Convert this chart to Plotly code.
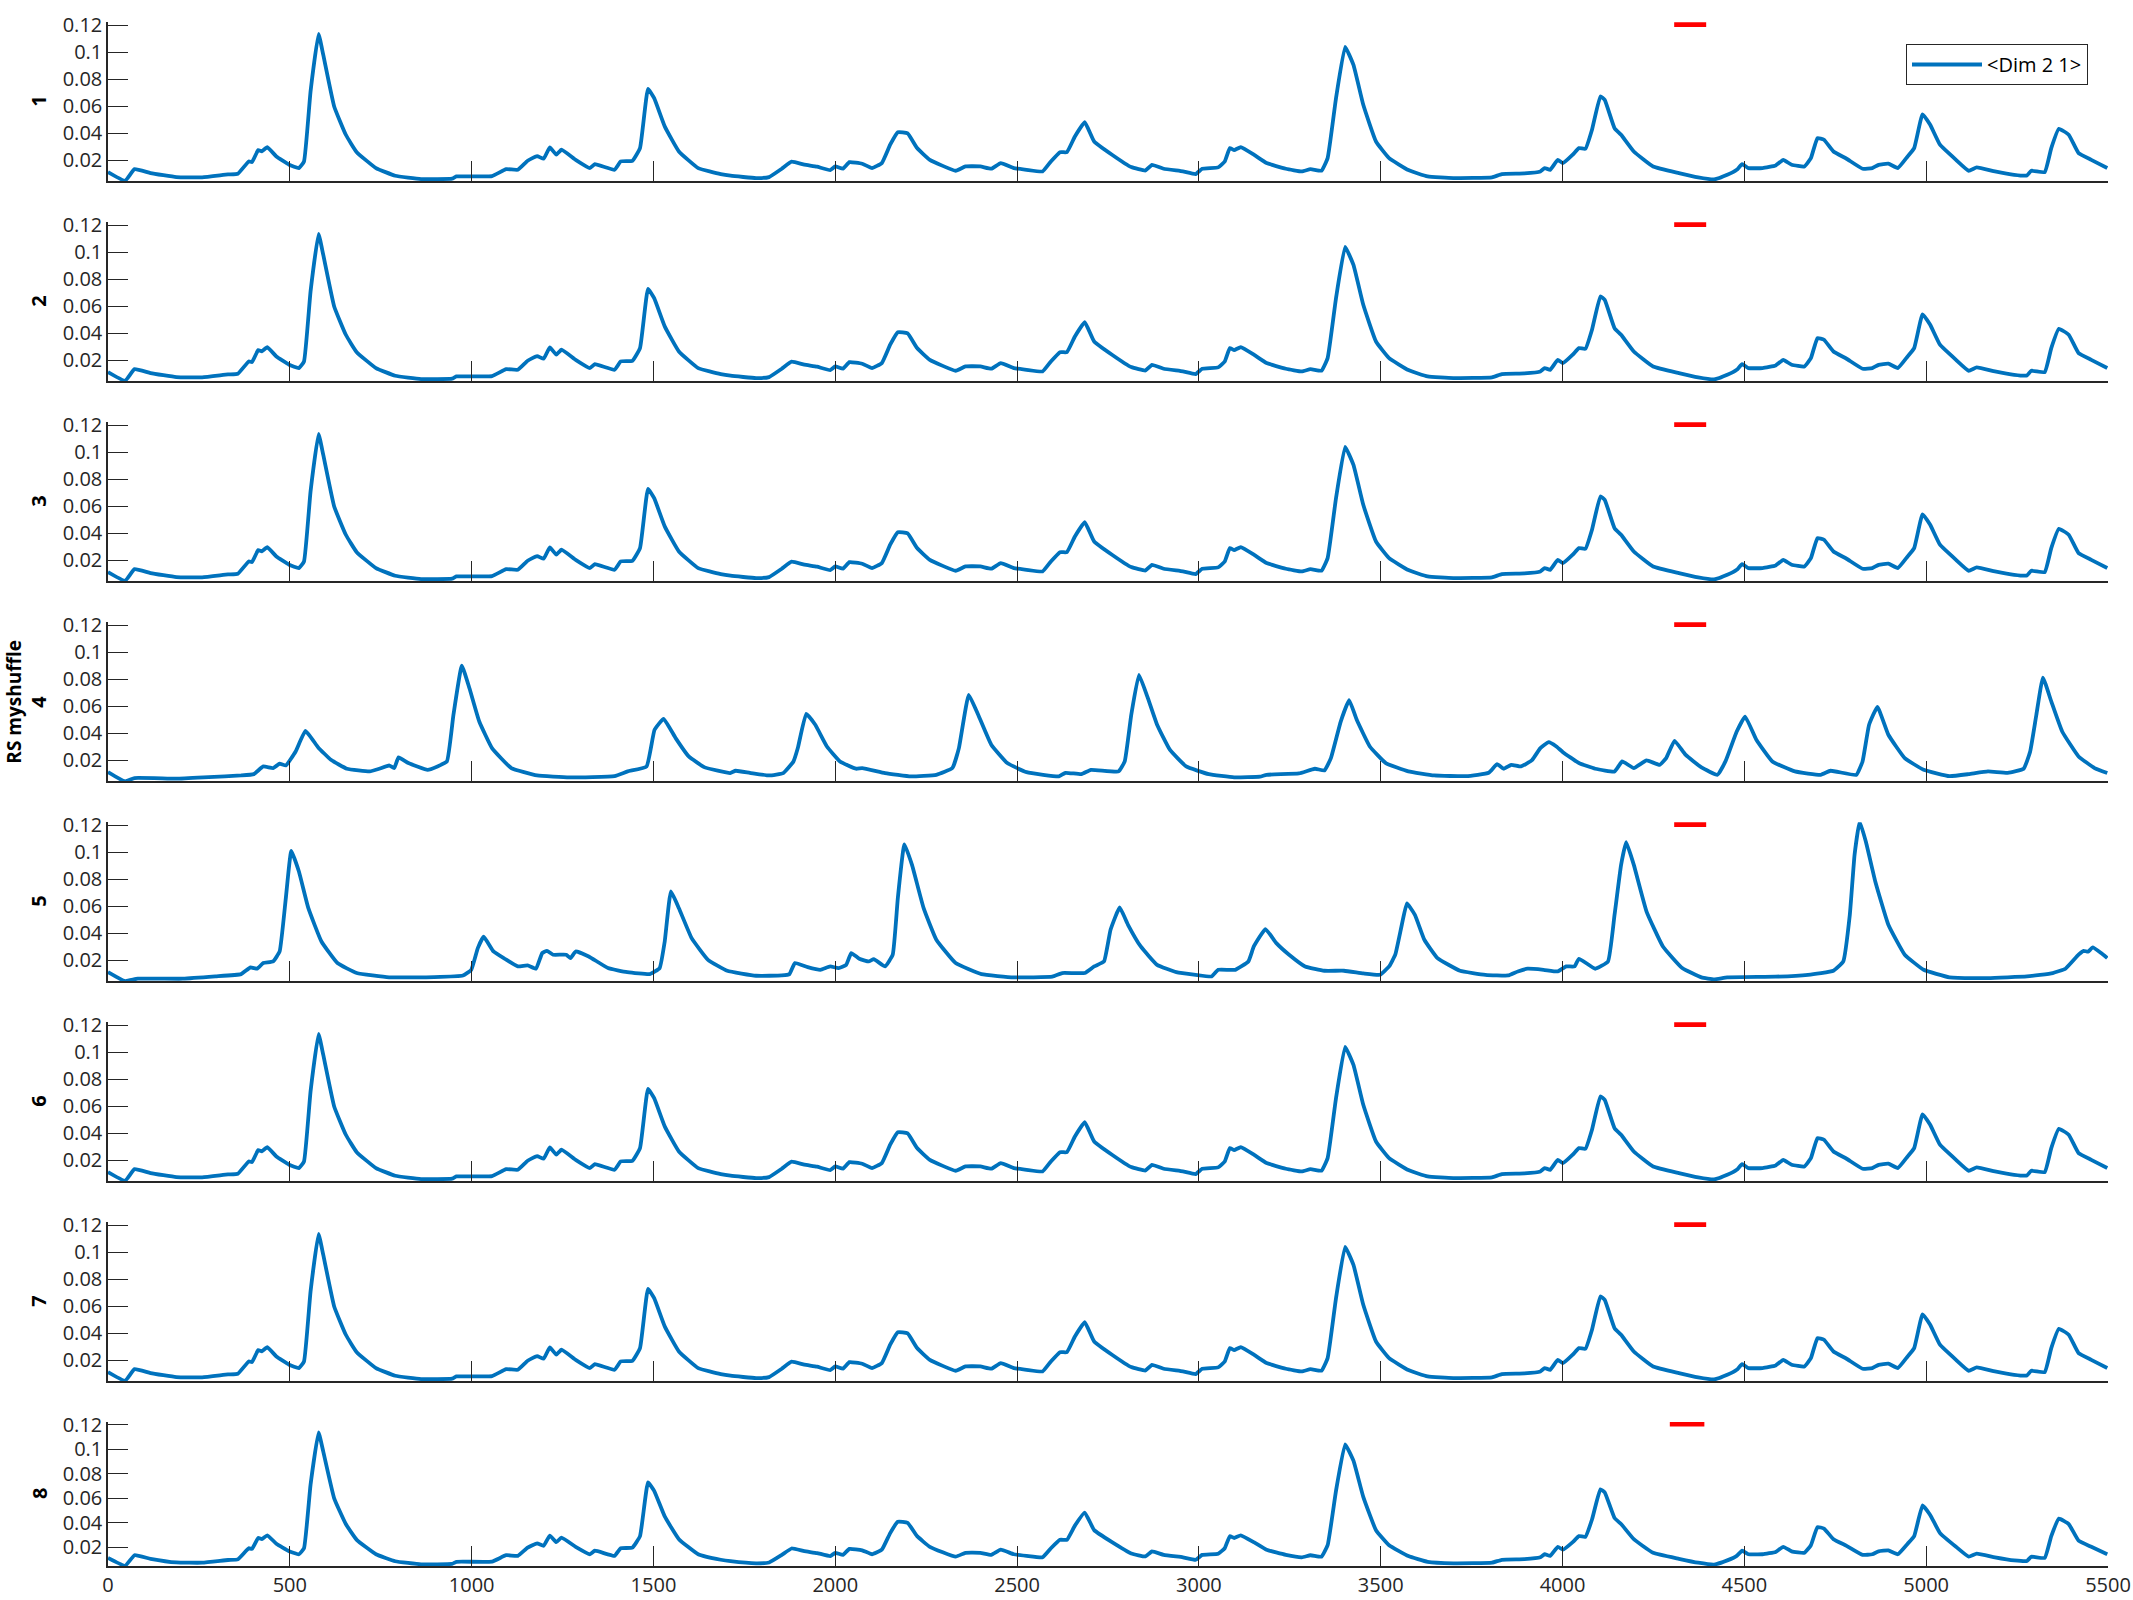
import plotly.graph_objects as go

# ---------------- data ----------------
# series shown in panels 1,2,3,6,7,8
xa = [0, 47, 73, 117, 188, 259, 330, 357, 387, 396, 413, 423, 438, 463, 498, 525, 539, 557, 579, 592, 622, 654, 684,
      737, 790, 861, 946, 958, 1056, 1095, 1127, 1154, 1180, 1198, 1215, 1233, 1247, 1286, 1325, 1339, 1393, 1410,
      1442, 1463, 1485, 1502, 1531, 1570, 1623, 1685, 1712, 1782, 1818, 1853, 1880, 1915, 1950, 1986, 2000, 2021,
      2039, 2074, 2101, 2128, 2151, 2172, 2199, 2225, 2260, 2331, 2358, 2399, 2429, 2455, 2491, 2526, 2570, 2593,
      2618, 2637, 2659, 2686, 2712, 2761, 2814, 2853, 2871, 2903, 2956, 2991, 3009, 3053, 3071, 3085, 3097, 3115,
      3151, 3186, 3239, 3283, 3307, 3337, 3354, 3377, 3402, 3425, 3452, 3487, 3523, 3576, 3629, 3700, 3806, 3833,
      3895, 3939, 3951, 3966, 3987, 4001, 4028, 4045, 4063, 4081, 4104, 4116, 4143, 4161, 4196, 4249, 4320, 4373,
      4417, 4453, 4479, 4494, 4511, 4550, 4586, 4607, 4630, 4665, 4683, 4701, 4719, 4745, 4781, 4825, 4852, 4869,
      4896, 4922, 4949, 4967, 4990, 5011, 5038, 5082, 5117, 5139, 5189, 5242, 5277, 5289, 5326, 5344, 5365, 5392,
      5419, 5454, 5498]
ya = [0.0111, 0.0047, 0.0133, 0.0104, 0.0074, 0.0072, 0.0094, 0.0099, 0.0190, 0.0185, 0.0274, 0.0265, 0.0296, 0.0227,
      0.0166, 0.0141, 0.0190, 0.0709, 0.1136, 0.0980, 0.0598, 0.0388, 0.0259, 0.0141, 0.0084, 0.0059, 0.0062, 0.0079,
      0.0081, 0.0133, 0.0128, 0.0195, 0.0230, 0.0210, 0.0294, 0.0240, 0.0277, 0.0202, 0.0141, 0.0170, 0.0128, 0.0190,
      0.0195, 0.0289, 0.0728, 0.0659, 0.0450, 0.0264, 0.0141, 0.0096, 0.0084, 0.0067, 0.0074, 0.0136, 0.0188, 0.0166,
      0.0151, 0.0126, 0.0153, 0.0136, 0.0185, 0.0173, 0.0141, 0.0178, 0.0314, 0.0407, 0.0398, 0.0289, 0.0202, 0.0121,
      0.0153, 0.0153, 0.0136, 0.0178, 0.0141, 0.0128, 0.0116, 0.0190, 0.0259, 0.0259, 0.0375, 0.0481, 0.0338, 0.0240,
      0.0148, 0.0123, 0.0165, 0.0136, 0.0116, 0.0096, 0.0136, 0.0146, 0.0190, 0.0289, 0.0274, 0.0296, 0.0240, 0.0178,
      0.0136, 0.0116, 0.0133, 0.0121, 0.0215, 0.0659, 0.1040, 0.0906, 0.0610, 0.0338, 0.0215, 0.0126, 0.0079, 0.0067,
      0.0072, 0.0096, 0.0101, 0.0116, 0.0141, 0.0128, 0.0202, 0.0178, 0.0240, 0.0289, 0.0284, 0.0425, 0.0672, 0.0647,
      0.0437, 0.0388, 0.0264, 0.0153, 0.0104, 0.0072, 0.0057, 0.0091, 0.0128, 0.0170, 0.0141, 0.0141, 0.0160, 0.0202,
      0.0165, 0.0153, 0.0215, 0.0363, 0.0351, 0.0264, 0.0210, 0.0136, 0.0141, 0.0165, 0.0173, 0.0141, 0.0227, 0.0289,
      0.0540, 0.0462, 0.0314, 0.0202, 0.0121, 0.0146, 0.0116, 0.0091, 0.0086, 0.0121, 0.0111, 0.0289, 0.0432, 0.0388,
      0.0252, 0.0202, 0.0141]

# series shown in panel 4
xd = [0, 47, 73, 188, 277, 366, 401, 427, 454, 472, 489, 516, 543, 578, 613, 657, 720, 746, 773, 787, 799, 826, 879,
      906, 932, 950, 973, 994, 1021, 1056, 1109, 1180, 1269, 1393, 1429, 1481, 1503, 1528, 1561, 1597, 1641, 1711,
      1726, 1765, 1818, 1857, 1885, 1897, 1920, 1945, 1977, 2013, 2057, 2074, 2137, 2208, 2278, 2322, 2340, 2367,
      2393, 2429, 2473, 2526, 2615, 2633, 2677, 2703, 2779, 2796, 2814, 2835, 2858, 2885, 2920, 2965, 3027, 3097,
      3168, 3186, 3275, 3319, 3345, 3363, 3390, 3413, 3434, 3470, 3514, 3576, 3647, 3735, 3797, 3820, 3838, 3859,
      3886, 3916, 3939, 3962, 3983, 4001, 4045, 4090, 4143, 4164, 4196, 4231, 4267, 4285, 4308, 4338, 4382, 4426,
      4448, 4479, 4502, 4533, 4577, 4639, 4710, 4737, 4808, 4825, 4843, 4866, 4896, 4941, 4993, 5064, 5117, 5170,
      5224, 5268, 5286, 5303, 5321, 5344, 5374, 5419, 5463, 5498]
yd = [0.0111, 0.0042, 0.0067, 0.0062, 0.0074, 0.0086, 0.0096, 0.0153, 0.0141, 0.0173, 0.0160, 0.0264, 0.0417, 0.0294,
      0.0202, 0.0136, 0.0116, 0.0136, 0.0160, 0.0141, 0.0220, 0.0178, 0.0128, 0.0153, 0.0190, 0.0536, 0.0901, 0.0733,
      0.0486, 0.0289, 0.0141, 0.0086, 0.0072, 0.0081, 0.0116, 0.0153, 0.0425, 0.0506, 0.0363, 0.0227, 0.0146, 0.0104,
      0.0121, 0.0106, 0.0086, 0.0104, 0.0190, 0.0289, 0.0543, 0.0462, 0.0301, 0.0190, 0.0136, 0.0141, 0.0104, 0.0079,
      0.0091, 0.0141, 0.0289, 0.0684, 0.0536, 0.0314, 0.0178, 0.0111, 0.0079, 0.0106, 0.0096, 0.0128, 0.0116, 0.0190,
      0.0536, 0.0832, 0.0672, 0.0462, 0.0277, 0.0153, 0.0096, 0.0072, 0.0077, 0.0091, 0.0101, 0.0136, 0.0123, 0.0215,
      0.0486, 0.0644, 0.0499, 0.0301, 0.0178, 0.0116, 0.0086, 0.0081, 0.0106, 0.0170, 0.0136, 0.0165, 0.0153, 0.0200,
      0.0289, 0.0333, 0.0301, 0.0259, 0.0178, 0.0136, 0.0116, 0.0190, 0.0141, 0.0198, 0.0165, 0.0215, 0.0343, 0.0240,
      0.0146, 0.0091, 0.0190, 0.0412, 0.0523, 0.0351, 0.0190, 0.0116, 0.0091, 0.0121, 0.0091, 0.0190, 0.0462, 0.0595,
      0.0388, 0.0215, 0.0128, 0.0081, 0.0096, 0.0116, 0.0106, 0.0136, 0.0264, 0.0536, 0.0812, 0.0635, 0.0412, 0.0227,
      0.0141, 0.0104]

# series shown in panel 5
xe = [0, 47, 82, 206, 295, 366, 392, 410, 427, 454, 472, 489, 504, 525, 551, 587, 631, 684, 773, 897, 976, 999, 1017,
      1033, 1060, 1091, 1127, 1154, 1177, 1194, 1207, 1224, 1260, 1272, 1286, 1322, 1375, 1428, 1490, 1517, 1531,
      1548, 1570, 1605, 1650, 1703, 1782, 1853, 1874, 1889, 1924, 1959, 1986, 2009, 2030, 2044, 2066, 2092, 2106,
      2137, 2158, 2172, 2190, 2211, 2243, 2278, 2331, 2402, 2491, 2597, 2624, 2686, 2712, 2739, 2757, 2782, 2805,
      2840, 2885, 2938, 2991, 3035, 3053, 3100, 3136, 3151, 3183, 3213, 3248, 3292, 3345, 3399, 3452, 3498, 3523,
      3540, 3558, 3572, 3594, 3620, 3656, 3718, 3788, 3850, 3877, 3904, 3948, 3987, 4010, 4033, 4045, 4090, 4125,
      4143, 4161, 4175, 4196, 4231, 4276, 4329, 4382, 4417, 4453, 4586, 4675, 4745, 4772, 4790, 4803, 4817, 4834,
      4860, 4896, 4941, 4993, 5064, 5170, 5277, 5348, 5383, 5419, 5433, 5445, 5458, 5481, 5498]
ye = [0.0111, 0.0044, 0.0062, 0.0062, 0.0079, 0.0096, 0.0146, 0.0136, 0.0178, 0.0190, 0.0264, 0.0659, 0.1010, 0.0857,
      0.0585, 0.0338, 0.0178, 0.0104, 0.0072, 0.0074, 0.0086, 0.0128, 0.0289, 0.0373, 0.0264, 0.0210, 0.0153, 0.0160,
      0.0136, 0.0252, 0.0269, 0.0240, 0.0240, 0.0215, 0.0264, 0.0227, 0.0141, 0.0111, 0.0096, 0.0141, 0.0338, 0.0709,
      0.0585, 0.0363, 0.0202, 0.0121, 0.0084, 0.0086, 0.0096, 0.0178, 0.0148, 0.0128, 0.0153, 0.0141, 0.0165, 0.0252,
      0.0210, 0.0190, 0.0207, 0.0153, 0.0240, 0.0659, 0.1059, 0.0906, 0.0585, 0.0351, 0.0178, 0.0096, 0.0072, 0.0077,
      0.0104, 0.0104, 0.0153, 0.0190, 0.0425, 0.0590, 0.0462, 0.0301, 0.0165, 0.0111, 0.0091, 0.0079, 0.0128, 0.0128,
      0.0190, 0.0301, 0.0430, 0.0326, 0.0240, 0.0153, 0.0121, 0.0121, 0.0101, 0.0091, 0.0153, 0.0240, 0.0462, 0.0620,
      0.0536, 0.0351, 0.0215, 0.0121, 0.0091, 0.0086, 0.0116, 0.0136, 0.0128, 0.0116, 0.0153, 0.0153, 0.0210, 0.0136,
      0.0190, 0.0536, 0.0906, 0.1074, 0.0906, 0.0560, 0.0301, 0.0141, 0.0072, 0.0057, 0.0072, 0.0077, 0.0091, 0.0121,
      0.0190, 0.0536, 0.0980, 0.1227, 0.1079, 0.0783, 0.0462, 0.0240, 0.0128, 0.0072, 0.0067, 0.0079, 0.0104, 0.0136,
      0.0240, 0.0269, 0.0262, 0.0294, 0.0252, 0.0215]

panel_labels = ["1", "2", "3", "4", "5", "6", "7", "8"]
panel_series = ["A", "A", "A", "D", "E", "A", "A", "A"]
red_x = [[4307, 4395]] * 7 + [[4295, 4390]]
red_y = [0.1205, 0.1205]
legend_name = "&lt;Dim 2 1&gt;"
overall_label = "RS myshuffle"
x_ticks = list(range(0, 5501, 500))
y_ticks = [0.02, 0.04, 0.06, 0.08, 0.1, 0.12]
y_ticktext = ["0.02", "0.04", "0.06", "0.08", "0.1", "0.12"]

series = {"A": (xa, ya), "D": (xd, yd), "E": (xe, ye)}

# ---------------- layout geometry ----------------
W, H = 2133, 1600
x0_px, x1_px = 108, 2108
tops = [22.3 + 200 * k for k in range(7)] + [1422]
bottoms = [181 + 200 * k for k in range(7)] + [1566]

BLUE = "#0072BD"
AX = "#262626"
FONT = "Open Sans"

fig = go.Figure()
layout = dict(
    template="none",
    width=W, height=H, autosize=False, margin=dict(l=0, r=0, t=0, b=0, pad=0, autoexpand=False),
    paper_bgcolor="white", plot_bgcolor="white",
    font=dict(family=FONT, size=20, color=AX),
    showlegend=True,
    legend=dict(x=2088 / W, y=1 - 44 / H, xanchor="right", yanchor="top",
                bordercolor=AX, borderwidth=1, bgcolor="white",
                font=dict(family=FONT, size=20, color="#000000"),
                itemwidth=70, tracegroupgap=0),
)
annotations = []
for i in range(8):
    n = "" if i == 0 else str(i + 1)
    xs, ys = series[panel_series[i]]
    fig.add_trace(go.Scatter(x=xs, y=ys, mode="lines", xaxis="x" + n, yaxis="y" + n,
                             line=dict(color=BLUE, width=3.8, shape="spline", smoothing=0.35),
                             name=legend_name, showlegend=(i == 0)))
    fig.add_trace(go.Scatter(x=red_x[i], y=red_y, mode="lines", xaxis="x" + n, yaxis="y" + n,
                             line=dict(color="#FF0000", width=5), showlegend=False, hoverinfo="skip"))
    ydom = [1 - bottoms[i] / H, 1 - tops[i] / H]
    layout["xaxis" + n] = dict(domain=[x0_px / W, x1_px / W], anchor="y" + n, range=[0, 5500],
                               tickvals=x_ticks, ticks="inside", ticklen=20, tickwidth=1, tickcolor=AX,
                               showline=True, linecolor=AX, linewidth=1.5, showgrid=False, zeroline=False,
                               automargin=False,
                               showticklabels=(i == 7), tickfont=dict(size=20, color=AX))
    layout["yaxis" + n] = dict(domain=ydom, anchor="x" + n, range=[0.0045, 0.1222],
                               tickvals=y_ticks, ticktext=y_ticktext, ticks="inside", ticklen=20, tickwidth=1,
                               tickcolor=AX, showline=True, linecolor=AX, linewidth=1.5, showgrid=False,
                               zeroline=False, automargin=False, tickfont=dict(size=20, color=AX))
    annotations.append(dict(x=39 / W, y=1 - (tops[i] + bottoms[i]) / 2 / H, xref="paper", yref="paper",
                            text="<b>" + panel_labels[i] + "</b>", showarrow=False, textangle=-90,
                            xanchor="center", yanchor="middle", font=dict(size=20, color="#000000")))
annotations.append(dict(x=0, y=1 - (tops[3] + bottoms[3]) / 2 / H, xref="paper", yref="paper",
                        text="<b>" + overall_label + "</b>", showarrow=False, textangle=-90,
                        xanchor="left", yanchor="middle", borderpad=0,
                        font=dict(size=19, color="#000000")))
layout["annotations"] = annotations
fig.update_layout(**layout)
fig.write_html("out.html")
